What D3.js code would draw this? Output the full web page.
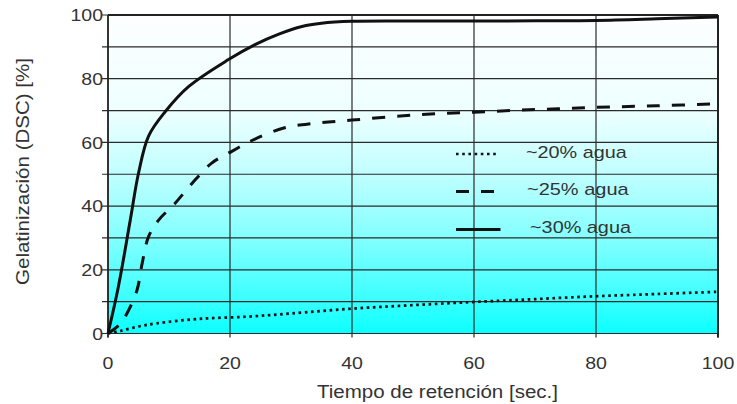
<!DOCTYPE html>
<html><head><meta charset="utf-8">
<script src="https://cdn.jsdelivr.net/npm/d3@7"></script>
<style>body{margin:0;background:#fff}svg{display:block}text{font-family:"Liberation Sans",Arial,sans-serif;fill:#333}</style>
</head><body><svg id="c" width="737" height="404"></svg>
<script>
const xTicks = [0,20,40,60,80,100];
const yTicks = [0,20,40,60,80,100];
const yGrid = [0,10,20,30,40,50,60,70,80,90,100];
const xTitle = "Tiempo de retención [sec.]";
const yTitle = "Gelatinización (DSC) [%]";
const seriesNames = ["~20% agua","~25% agua","~30% agua"];
const t20 = [0,2,5,8,15,23,30,40,50,60,70,80,90,100];
const v20 = [0,0.8,2.2,3.2,4.6,5.3,6.3,7.8,8.9,9.9,10.8,11.7,12.4,13.1];
const t25 = [0,2,3.1,4.75,5.6,6.65,8.3,11,13.8,17,20.3,23.6,28.8,34,40,50,60,70,80,90,100];
const v25 = [0,3,6.3,13.6,22,30.4,35.6,40.9,47.2,53.5,57.2,60.6,64.5,66,67,68.6,69.5,70.3,71,71.5,72.1];
const t30 = [0,1.7,3.65,5,6.65,9.4,13.2,19.75,24.1,28,31.8,35,40,50,60,70,80,90,100];
const v30 = [0,14.7,35.6,50.3,62,69.7,77.5,86,90.7,94,96.4,97.4,98,98.1,98.1,98.2,98.3,98.8,99.4];

const svg = d3.select("#c");
const x = d3.scaleLinear().domain([0,100]).range([108,718]);
const y = d3.scaleLinear().domain([0,100]).range([333.5,15]);

const defs = svg.append("defs");
const g = defs.append("linearGradient").attr("id","bg").attr("x1",0).attr("y1",0).attr("x2",0).attr("y2",1);
[[0,"#fdfeff"],[0.3,"#eeffff"],[0.5,"#c0ffff"],[0.7,"#84ffff"],[0.9,"#38ffff"],[1,"#0cffff"]]
  .forEach(([o,c])=>g.append("stop").attr("offset",o).attr("stop-color",c));

svg.append("rect").attr("x",x(0)).attr("y",y(100)).attr("width",x(100)-x(0)).attr("height",y(0)-y(100)).attr("fill","url(#bg)");

// horizontal grid
svg.append("g").selectAll("line").data(yGrid).join("line")
  .attr("x1",x(0)-6).attr("x2",x(100)).attr("y1",d=>y(d)).attr("y2",d=>y(d))
  .attr("stroke","#2a2a2a").attr("stroke-width",1.2);
// vertical grid
svg.append("g").selectAll("line").data(xTicks).join("line")
  .attr("x1",d=>x(d)).attr("x2",d=>x(d)).attr("y1",y(100)).attr("y2",y(0)+4)
  .attr("stroke","#2a2a2a").attr("stroke-width",1.2);
// border
svg.append("line").attr("x1",x(0)).attr("x2",x(100)).attr("y1",y(100)).attr("y2",y(100)).attr("stroke","#222").attr("stroke-width",2);
svg.append("line").attr("x1",x(100)).attr("x2",x(100)).attr("y1",y(100)).attr("y2",y(0)+4).attr("stroke","#222").attr("stroke-width",2);
svg.append("line").attr("x1",x(0)).attr("x2",x(0)).attr("y1",y(100)).attr("y2",y(0)+4).attr("stroke","#222").attr("stroke-width",1.6);

// tick labels
svg.append("g").selectAll("text").data(yTicks).join("text")
  .attr("transform",d=>`translate(103,${y(d)+6.2}) scale(1.15,1)`)
  .attr("text-anchor","end").attr("font-size",17).text(d=>d);
svg.append("g").selectAll("text").data(xTicks).join("text")
  .attr("transform",d=>`translate(${x(d)},368.5) scale(1.15,1)`)
  .attr("text-anchor","middle").attr("font-size",17).text(d=>d);

// titles
svg.append("text").attr("x",317).attr("y",397.5).attr("font-size",18)
  .attr("textLength",241).attr("lengthAdjust","spacingAndGlyphs").text(xTitle);
svg.append("text").attr("transform","translate(29,285) rotate(-90)").attr("font-size",19)
  .attr("textLength",227).attr("lengthAdjust","spacingAndGlyphs").text(yTitle);

// series
const line = d3.line().x(d=>x(d[0])).y(d=>y(d[1])).curve(d3.curveCatmullRom.alpha(0.5));
const styles = [
  {dash:"2.6,3.6", w:2.7},
  {dash:"13,12", w:3},
  {dash:null, w:3}
];
const data = [d3.zip(t20,v20), d3.zip(t25,v25), d3.zip(t30,v30)];
data.forEach((d,i)=>{
  svg.append("path").datum(d).attr("d",line).attr("fill","none")
    .attr("stroke","#111").attr("stroke-width",styles[i].w)
    .attr("stroke-dasharray",styles[i].dash);
});

// legend
const legY = [154,191.5,229.5];
const legTextX = [526,527,530];
const legTextY = [157.5,195,232.5];
const legW = [100.7,101.6,101];
seriesNames.forEach((n,i)=>{
  svg.append("line").attr("x1",456).attr("x2",i===1?497.5:(i===0?496:500.5))
    .attr("y1",legY[i]).attr("y2",legY[i])
    .attr("stroke","#111").attr("stroke-width",styles[i].w)
    .attr("stroke-dasharray",styles[i].dash);
  svg.append("text").attr("x",legTextX[i]).attr("y",legTextY[i]).attr("font-size",17)
    .attr("textLength",legW[i]).attr("lengthAdjust","spacingAndGlyphs").text(n);
});
</script></body></html>
